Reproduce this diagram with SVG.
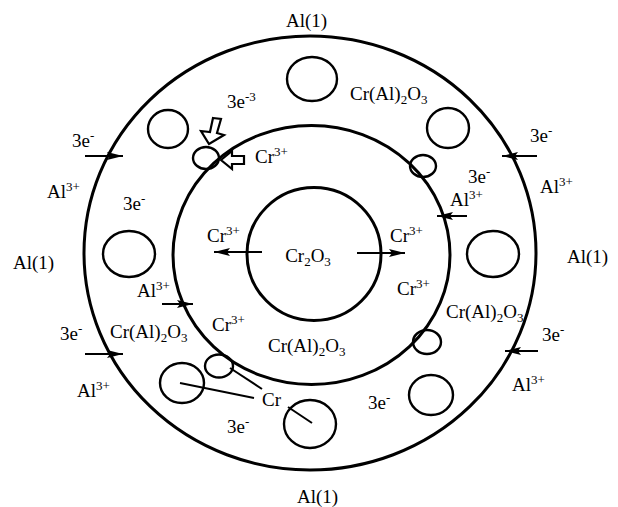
<svg xmlns="http://www.w3.org/2000/svg" width="618" height="507" viewBox="0 0 618 507">
<defs>
<style>
.ring{fill:none;stroke:#000;stroke-width:3}
.hole{fill:none;stroke:#000;stroke-width:2.4}
.t{font-family:"Liberation Serif","Times New Roman",serif;font-size:19px;fill:#000}
.s{font-size:13px}
.ln{stroke:#000;stroke-width:2;fill:none}
.hollow{fill:#fff;stroke:#000;stroke-width:2.2;stroke-linejoin:miter}
</style>
<marker id="ah" viewBox="0 0 16 10" refX="16" refY="5" markerWidth="16" markerHeight="10" markerUnits="userSpaceOnUse" orient="auto">
<path d="M0,1 L16,5 L0,9 L3,5 z" fill="#000"/>
</marker>
</defs>
<rect width="618" height="507" fill="#fff"/>

<g id="outer-ring"><ellipse class="ring" cx="310" cy="253" rx="226" ry="217"/></g>
<g id="middle-ring"><ellipse class="ring" cx="311.5" cy="255" rx="138.5" ry="129.5"/></g>
<g id="core">
<ellipse class="ring" cx="314" cy="254" rx="67" ry="66.5"/>
<text class="t" x="308" y="262" text-anchor="middle">Cr<tspan class="s" dy="4">2</tspan><tspan dy="-4">O</tspan><tspan class="s" dy="4">3</tspan></text>
</g>

<g id="holes">
<ellipse class="hole" cx="312" cy="79" rx="25" ry="22"/>
<ellipse class="hole" cx="168" cy="129" rx="20" ry="19"/>
<ellipse class="hole" cx="448" cy="128" rx="21" ry="20"/>
<ellipse class="hole" cx="423" cy="166" rx="13" ry="11"/>
<ellipse class="hole" cx="129" cy="254" rx="26" ry="23"/>
<ellipse class="hole" cx="493" cy="254" rx="26" ry="23"/>
<ellipse class="hole" cx="427" cy="342" rx="14" ry="12"/>
<ellipse class="hole" cx="431" cy="395" rx="22" ry="20"/>
<ellipse class="hole" cx="310" cy="424" rx="26" ry="24"/>
<ellipse class="hole" cx="182" cy="383" rx="22" ry="20"/>
<ellipse class="hole" cx="219" cy="366" rx="14" ry="11.5"/>
<ellipse class="hole" cx="206" cy="158" rx="13" ry="11" stroke-width="2.8"/>
</g>

<g id="connectors">
<line class="ln" x1="85" y1="156" x2="123" y2="156" marker-end="url(#ah)"/>
<line class="ln" x1="85" y1="354" x2="123" y2="354" marker-end="url(#ah)"/>
<line class="ln" x1="162" y1="304" x2="193" y2="304" marker-end="url(#ah)"/>
<line class="ln" x1="537" y1="156" x2="502" y2="156" marker-end="url(#ah)"/>
<line class="ln" x1="467" y1="216" x2="437" y2="216" marker-end="url(#ah)"/>
<line class="ln" x1="538" y1="351" x2="505" y2="351" marker-end="url(#ah)"/>
<line class="ln" x1="262" y1="252" x2="214" y2="252" stroke-width="2.5" marker-end="url(#ah)"/>
<line class="ln" x1="357" y1="253" x2="405" y2="253" stroke-width="2.5" marker-end="url(#ah)"/>
<polygon class="hollow" points="213,118 221,119 217,133 224,135 209,144 201,131 210,132"/>
<polygon class="hollow" points="221,160 232,151 232,156 244,156 244,164 232,164 232,169"/>
<line class="ln" x1="230" y1="368" x2="262" y2="389"/>
<line class="ln" x1="180" y1="383" x2="254" y2="398"/>
<line class="ln" x1="288" y1="407" x2="312" y2="423"/>
</g>

<g id="labels">
<text class="t" x="286" y="27">Al(1)</text>
<text class="t" x="13" y="269">Al(1)</text>
<text class="t" x="567" y="263">Al(1)</text>
<text class="t" x="297" y="503">Al(1)</text>
<text class="t" x="227" y="108">3e<tspan class="s" dy="-7">-3</tspan></text>
<text class="t" x="255" y="163">Cr<tspan class="s" dy="-7">3+</tspan></text>
<text class="t" x="350" y="100">Cr(Al)<tspan class="s" dy="4">2</tspan><tspan dy="-4">O</tspan><tspan class="s" dy="4">3</tspan></text>
<text class="t" x="72" y="147">3e<tspan class="s" dy="-7">-</tspan></text>
<text class="t" x="47" y="198">Al<tspan class="s" dy="-7">3+</tspan></text>
<text class="t" x="123" y="210">3e<tspan class="s" dy="-7">-</tspan></text>
<text class="t" x="207" y="242">Cr<tspan class="s" dy="-7">3+</tspan></text>
<text class="t" x="390" y="242">Cr<tspan class="s" dy="-7">3+</tspan></text>
<text class="t" x="468" y="183">3e<tspan class="s" dy="-7">-</tspan></text>
<text class="t" x="450" y="206">Al<tspan class="s" dy="-7">3+</tspan></text>
<text class="t" x="530" y="142">3e<tspan class="s" dy="-7">-</tspan></text>
<text class="t" x="540" y="193">Al<tspan class="s" dy="-7">3+</tspan></text>
<text class="t" x="397" y="295">Cr<tspan class="s" dy="-7">3+</tspan></text>
<text class="t" x="446" y="318">Cr(Al)<tspan class="s" dy="4">2</tspan><tspan dy="-4">O</tspan><tspan class="s" dy="4">3</tspan></text>
<text class="t" x="542" y="341">3e<tspan class="s" dy="-7">-</tspan></text>
<text class="t" x="512" y="391">Al<tspan class="s" dy="-7">3+</tspan></text>
<text class="t" x="368" y="409">3e<tspan class="s" dy="-7">-</tspan></text>
<text class="t" x="268" y="352">Cr(Al)<tspan class="s" dy="4">2</tspan><tspan dy="-4">O</tspan><tspan class="s" dy="4">3</tspan></text>
<text class="t" x="212" y="331">Cr<tspan class="s" dy="-7">3+</tspan></text>
<text class="t" x="137" y="297">Al<tspan class="s" dy="-7">3+</tspan></text>
<text class="t" x="110" y="338">Cr(Al)<tspan class="s" dy="4">2</tspan><tspan dy="-4">O</tspan><tspan class="s" dy="4">3</tspan></text>
<text class="t" x="60" y="340">3e<tspan class="s" dy="-7">-</tspan></text>
<text class="t" x="77" y="397">Al<tspan class="s" dy="-7">3+</tspan></text>
<text class="t" x="262" y="406">Cr</text>
<text class="t" x="227" y="433">3e<tspan class="s" dy="-7">-</tspan></text>
</g>
</svg>
